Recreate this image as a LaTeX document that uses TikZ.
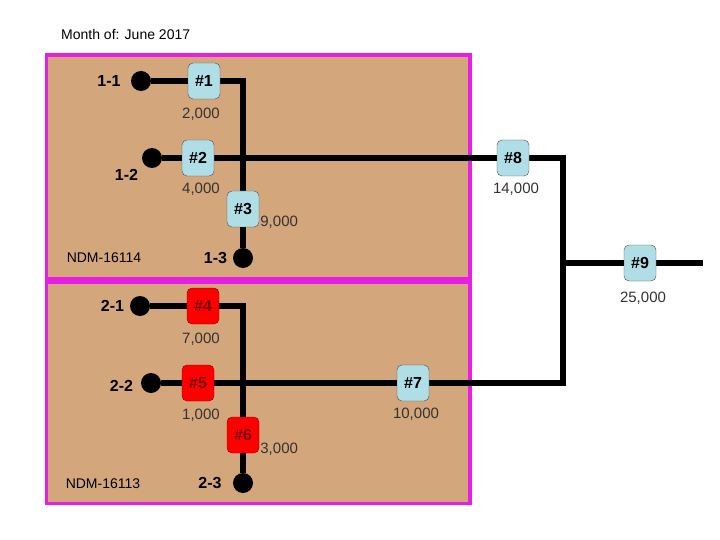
\documentclass[tikz,border=0pt]{standalone}
\usepackage{fontspec}
\setmainfont{Liberation Sans}
\usetikzlibrary{positioning}
\definecolor{ndmtan}{RGB}{211,166,124}
\definecolor{ndmpink}{RGB}{230,30,230}
\definecolor{mtrblue}{RGB}{176,222,230}
\definecolor{mtrred}{RGB}{255,0,0}
\pgfdeclarelayer{panels}
\pgfdeclarelayer{wires}
\pgfsetlayers{panels,wires,main}

\begin{document}
\begin{tikzpicture}[x=1pt,y=-1pt,font=\fontsize{15}{17}\selectfont,
    mtr/.style={draw=black!70,rounded corners=5pt,minimum width=32pt,minimum height=36pt,inner sep=0pt,font=\fontsize{16}{18}\selectfont\bfseries},
    ok/.style={mtr,fill=mtrblue},
    bad/.style={mtr,fill=mtrred,draw=red!50!black,text=red!45!black},
    well/.style={circle,fill=black,minimum size=20pt,inner sep=0pt},
    wl/.style={inner sep=0pt,font=\fontsize{16}{18}\selectfont\bfseries},
    vol/.style={inner sep=0pt,text=black!80},
    small/.style={inner sep=0pt,font=\fontsize{14}{16}\selectfont},
    wire/.style={line width=5.5pt,line join=miter},
    lease/.style={draw=ndmpink,fill=ndmtan,line width=3.5pt}]
    \node[small,anchor=west] (title) at (61,34) {Month of: June 2017};
    % wells
    \node[well] (d11) at (141,81) {};
    \node[well] (d12) at (152,158) {};
    \node[well] (d13) at (243,258) {};
    \node[well] (d21) at (140,306) {};
    \node[well] (d22) at (151,383) {};
    \node[well] (d23) at (243,483) {};
    \node[wl,left=10pt of d11] (l11) {1-1};
    \node[wl,below left=4pt and 6.5pt of d12] (l12) {1-2};
    \node[wl,left=5.5pt of d13] (l13) {1-3};
    \node[wl,left=5.5pt of d21] (l21) {2-1};
    \node[wl,left=7.5pt of d22,yshift=-3pt] (l22) {2-2};
    \node[wl,left=11pt of d23] (l23) {2-3};
    \node[small] (ndm1) at (104,258) {NDM-16114};
    \node[small] (ndm2) at (103,484) {NDM-16113};
    % meters
    \node[ok] (b1) at (204,81) {\#1};
    \node[ok] (b2) at (198,158) {\#2};
    \node[ok] (b3) at (243,209) {\#3};
    \node[bad] (b4) at (203,306) {\#4};
    \node[bad] (b5) at (198,383) {\#5};
    \node[bad] (b6) at (243,435) {\#6};
    \node[ok] (b7) at (413,383) {\#7};
    \node[ok] (b8) at (513,158) {\#8};
    \node[ok] (b9) at (640,263) {\#9};
    \node[vol,below=8.5pt of b1,xshift=-3pt] (v1) {2,000};
    \node[vol,below=6.5pt of b2,xshift=3pt] (v2) {4,000};
    \node[vol,right=1pt of b3,yshift=-13pt] (v3) {9,000};
    \node[vol,below=9pt of b4,xshift=-2pt] (v4) {7,000};
    \node[vol,below=8pt of b5,xshift=3pt] (v5) {1,000};
    \node[vol,right=1pt of b6,yshift=-14pt] (v6) {3,000};
    \node[vol,below=7pt of b7,xshift=3pt] (v7) {10,000};
    \node[vol,below=7pt of b8,xshift=3pt] (v8) {14,000};
    \node[vol,below=11pt of b9,xshift=3pt] (v9) {25,000};
    \coordinate (tbot) at (563,383);
    \coordinate (feed) at (703,263);
    \begin{pgfonlayer}{wires}
      \draw[wire] (d11) -- (b1) -| (d13);
      \draw[wire] (d21) -- (b4) -| (d23);
      \draw[wire] (d12) -- (b2) -- (b8) -| (tbot) -- (b7) -- (b5) -- (d22);
      \draw[wire] (tbot |- b9) -- (b9) -- (feed);
    \end{pgfonlayer}
    \begin{pgfonlayer}{panels}
      \path[use as bounding box,fill=white] (0,0) rectangle (720,540);
      \draw[lease] (46.5,55) rectangle (470,279);
      \draw[lease] (46.5,282.5) rectangle (470,503.5);
    \end{pgfonlayer}
  \end{tikzpicture}
\end{document}
